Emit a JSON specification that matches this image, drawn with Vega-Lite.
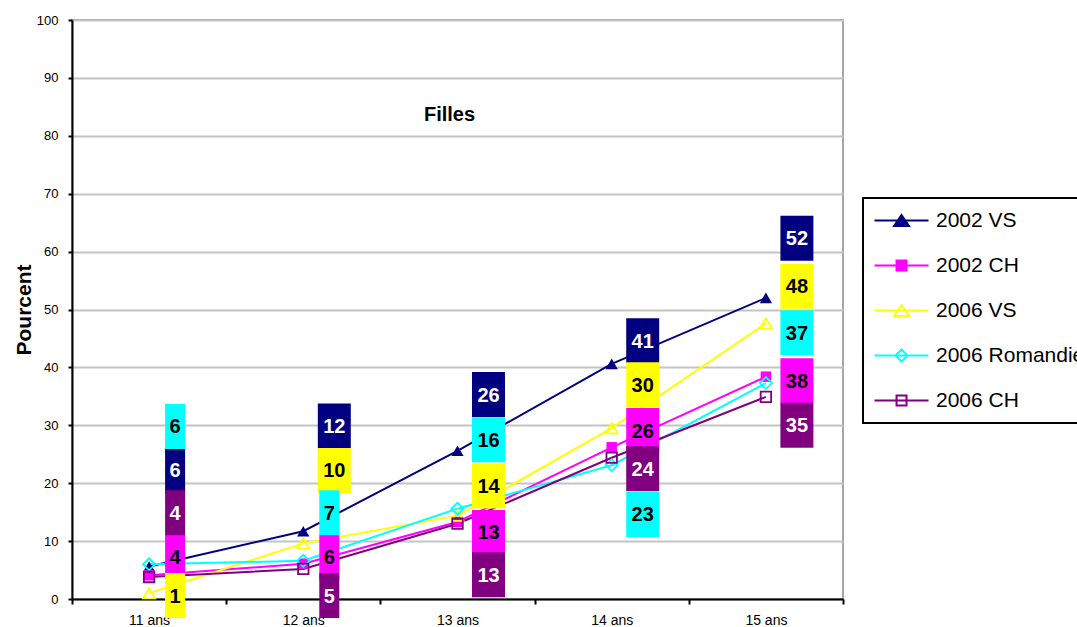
{
  "$schema": "https://vega.github.io/schema/vega-lite/v6.json",
  "width": 771,
  "height": 579,
  "autosize": {"type": "none"},
  "padding": {"left": 72, "top": 20, "right": 234, "bottom": 28},
  "background": "white",
  "config": {
    "font": "Liberation Sans",
    "view": {"stroke": "#a6a6a6", "strokeWidth": 2},
    "legend": {"strokeWidth": 2}
  },
  "title": {"text": "Filles", "fontSize": 20, "fontWeight": "bold", "color": "black", "anchor": "middle", "dy": 115, "dx": -8},
  "datasets": {
    "pts": [
      {"age": "11 ans", "serie": "2002 VS", "v": 5.6},
      {"age": "12 ans", "serie": "2002 VS", "v": 11.7},
      {"age": "13 ans", "serie": "2002 VS", "v": 25.6},
      {"age": "14 ans", "serie": "2002 VS", "v": 40.6},
      {"age": "15 ans", "serie": "2002 VS", "v": 52.0},
      {"age": "11 ans", "serie": "2002 CH", "v": 4.1},
      {"age": "12 ans", "serie": "2002 CH", "v": 6.1},
      {"age": "13 ans", "serie": "2002 CH", "v": 13.3},
      {"age": "14 ans", "serie": "2002 CH", "v": 26.2},
      {"age": "15 ans", "serie": "2002 CH", "v": 38.4},
      {"age": "11 ans", "serie": "2006 VS", "v": 1.0},
      {"age": "12 ans", "serie": "2006 VS", "v": 9.6},
      {"age": "13 ans", "serie": "2006 VS", "v": 14.4},
      {"age": "14 ans", "serie": "2006 VS", "v": 29.5},
      {"age": "15 ans", "serie": "2006 VS", "v": 47.6},
      {"age": "11 ans", "serie": "2006 Romandie", "v": 6.0},
      {"age": "12 ans", "serie": "2006 Romandie", "v": 6.6},
      {"age": "13 ans", "serie": "2006 Romandie", "v": 15.6},
      {"age": "14 ans", "serie": "2006 Romandie", "v": 23.1},
      {"age": "15 ans", "serie": "2006 Romandie", "v": 37.3},
      {"age": "11 ans", "serie": "2006 CH", "v": 3.8},
      {"age": "12 ans", "serie": "2006 CH", "v": 5.2},
      {"age": "13 ans", "serie": "2006 CH", "v": 13.0},
      {"age": "14 ans", "serie": "2006 CH", "v": 24.4},
      {"age": "15 ans", "serie": "2006 CH", "v": 34.9}
    ],
    "lab": [
      {"age": "11 ans", "serie": "2002 VS", "n": 6, "c": 22.2},
      {"age": "11 ans", "serie": "2002 CH", "n": 4, "c": 7.2},
      {"age": "11 ans", "serie": "2006 VS", "n": 1, "c": 0.6},
      {"age": "11 ans", "serie": "2006 Romandie", "n": 6, "c": 29.8},
      {"age": "11 ans", "serie": "2006 CH", "n": 4, "c": 14.9},
      {"age": "12 ans", "serie": "2002 VS", "n": 12, "c": 29.9},
      {"age": "12 ans", "serie": "2002 CH", "n": 6, "c": 7.2},
      {"age": "12 ans", "serie": "2006 VS", "n": 10, "c": 22.2},
      {"age": "12 ans", "serie": "2006 Romandie", "n": 7, "c": 14.9},
      {"age": "12 ans", "serie": "2006 CH", "n": 5, "c": 0.6},
      {"age": "13 ans", "serie": "2002 VS", "n": 26, "c": 35.3},
      {"age": "13 ans", "serie": "2002 CH", "n": 13, "c": 11.5},
      {"age": "13 ans", "serie": "2006 VS", "n": 14, "c": 19.5},
      {"age": "13 ans", "serie": "2006 Romandie", "n": 16, "c": 27.5},
      {"age": "13 ans", "serie": "2006 CH", "n": 13, "c": 4.2},
      {"age": "14 ans", "serie": "2002 VS", "n": 41, "c": 44.6},
      {"age": "14 ans", "serie": "2002 CH", "n": 26, "c": 29.1},
      {"age": "14 ans", "serie": "2006 VS", "n": 30, "c": 37.0},
      {"age": "14 ans", "serie": "2006 Romandie", "n": 23, "c": 14.6},
      {"age": "14 ans", "serie": "2006 CH", "n": 24, "c": 22.5},
      {"age": "15 ans", "serie": "2002 VS", "n": 52, "c": 62.3},
      {"age": "15 ans", "serie": "2002 CH", "n": 38, "c": 37.7},
      {"age": "15 ans", "serie": "2006 VS", "n": 48, "c": 54.0},
      {"age": "15 ans", "serie": "2006 Romandie", "n": 37, "c": 46.0},
      {"age": "15 ans", "serie": "2006 CH", "n": 35, "c": 30.0}
    ]
  },
  "layer": [
    {
      "data": {"name": "pts"},
      "mark": {"type": "line", "strokeWidth": 2},
      "encoding": {
        "x": {
          "field": "age", "type": "nominal", "bandPosition": 0.5,
          "scale": {"type": "band", "paddingInner": 0, "paddingOuter": 0},
          "axis": {"title": null, "labelAngle": 0, "labelFontSize": 14, "labelColor": "black", "tickBand": "extent", "tickSize": 5, "tickColor": "black", "tickWidth": 2, "domainColor": "black", "domainWidth": 2, "labelPadding": 9, "grid": false}
        },
        "y": {
          "field": "v", "type": "quantitative",
          "scale": {"domain": [0, 100], "nice": false},
          "axis": {"title": "Pourcent", "values": [0, 10, 20, 30, 40, 50, 60, 70, 80, 90, 100], "labelFontSize": 13, "labelColor": "black", "tickSize": 4, "tickColor": "black", "tickWidth": 2, "domainColor": "black", "domainWidth": 2, "gridColor": "#c4c4c4", "gridWidth": 2, "titleFontSize": 21, "titleFontWeight": "bold", "titleColor": "black", "titlePadding": 2, "labelPadding": 10}
        },
        "color": {
          "field": "serie", "type": "nominal",
          "scale": {"domain": ["2002 VS", "2002 CH", "2006 VS", "2006 Romandie", "2006 CH"], "range": ["#000080", "#FF00FF", "#FFFF00", "#00FFFF", "#800080"]},
          "legend": {
            "title": null, "orient": "none", "legendX": 791, "legendY": 178, "padding": 12,
            "strokeColor": "black", "symbolSize": 144, "symbolStrokeWidth": 2, "labelOffset": 40,
            "labelFontSize": 21, "labelFont": "Liberation Sans", "labelColor": "black", "rowPadding": 23, "labelLimit": 400
          }
        }
      }
    },
    {
      "data": {"name": "pts"},
      "mark": {"type": "point", "filled": false, "size": 0, "strokeWidth": 2, "opacity": 1},
      "encoding": {
        "x": {"field": "age", "type": "nominal", "bandPosition": 0.5},
        "y": {"field": "v", "type": "quantitative"},
        "color": {"field": "serie", "type": "nominal"},
        "fill": {"field": "serie", "type": "nominal", "legend": {"title": null}, "scale": {"domain": ["2002 VS", "2002 CH", "2006 VS", "2006 Romandie", "2006 CH"], "range": ["#000080", "#FF00FF", "transparent", "transparent", "transparent"]}},
        "shape": {"field": "serie", "type": "nominal", "legend": {"title": null}, "scale": {"domain": ["2002 VS", "2002 CH", "2006 VS", "2006 Romandie", "2006 CH"], "range": [
          "M-1.83,0H7.17M2.67,-0.92L3.92,0.92L1.42,0.92Z",
          "M-1.83,0H7.17M1.84,-0.83H3.5V0.83H1.84Z",
          "M-1.83,0H7.17M2.67,-0.92L3.92,0.92L1.42,0.92Z",
          "M-1.83,0H7.17M2.67,-1L3.67,0L2.67,1L1.67,0Z",
          "M-1.83,0H7.17M1.84,-0.83H3.5V0.83H1.84Z"
        ]}}
      }
    },
    {
      "data": {"name": "pts"},
      "transform": [{"filter": "datum.serie==='2002 VS'||datum.serie==='2002 CH'"}],
      "mark": {"type": "point", "filled": true, "opacity": 1},
      "encoding": {
        "x": {"field": "age", "type": "nominal", "bandPosition": 0.5},
        "y": {"field": "v", "type": "quantitative"},
        "color": {"condition": {"test": "datum.serie==='2002 VS'", "value": "#000080"}, "value": "#FF00FF"},
        "shape": {"condition": {"test": "datum.serie==='2002 VS'", "value": "triangle-up"}, "value": "square"},
        "size": {"condition": {"test": "datum.serie==='2002 VS'", "value": 150}, "value": 110}
      }
    },
    {
      "data": {"name": "pts"},
      "transform": [{"filter": "datum.serie!=='2002 VS'&&datum.serie!=='2002 CH'"}],
      "mark": {"type": "point", "filled": false, "opacity": 1, "strokeWidth": 1.8},
      "encoding": {
        "x": {"field": "age", "type": "nominal", "bandPosition": 0.5},
        "y": {"field": "v", "type": "quantitative"},
        "color": {"field": "serie", "type": "nominal"},
        "shape": {"condition": [{"test": "datum.serie==='2006 VS'", "value": "triangle-up"}, {"test": "datum.serie==='2006 Romandie'", "value": "diamond"}], "value": "square"},
        "size": {"condition": {"test": "datum.serie==='2006 CH'", "value": 110}, "value": 145}
      }
    },
    {
      "data": {"name": "lab"},
      "mark": {"type": "point", "filled": true, "opacity": 1, "strokeWidth": 0, "size": 2025, "xOffset": 31},
      "encoding": {
        "x": {"field": "age", "type": "nominal", "bandPosition": 0.5},
        "y": {"field": "c", "type": "quantitative"},
        "color": {"condition": [
          {"test": "datum.serie==='2002 VS'", "value": "#000080"},
          {"test": "datum.serie==='2002 CH'", "value": "#FF00FF"},
          {"test": "datum.serie==='2006 VS'", "value": "#FFFF00"},
          {"test": "datum.serie==='2006 Romandie'", "value": "#00FFFF"}
        ], "value": "#800080"},
        "shape": {"condition": {"test": "datum.n >= 10", "value": "M-0.733,-1H0.733V1H-0.733Z"}, "value": "M-0.667,-1H0.222V1H-0.667Z"}
      }
    },
    {
      "data": {"name": "lab"},
      "transform": [{"filter": "datum.n < 10"}],
      "mark": {"type": "text", "xOffset": 26, "fontSize": 20, "fontWeight": "bold", "font": "Liberation Sans", "baseline": "middle", "align": "center", "dy": 1},
      "encoding": {
        "x": {"field": "age", "type": "nominal", "bandPosition": 0.5},
        "y": {"field": "c", "type": "quantitative"},
        "text": {"field": "n", "type": "quantitative"},
        "color": {"condition": {"test": "datum.serie==='2002 VS'||datum.serie==='2006 CH'", "value": "white"}, "value": "black"}
      }
    },
    {
      "data": {"name": "lab"},
      "transform": [{"filter": "datum.n >= 10"}],
      "mark": {"type": "text", "xOffset": 31, "fontSize": 20, "fontWeight": "bold", "font": "Liberation Sans", "baseline": "middle", "align": "center", "dy": 1},
      "encoding": {
        "x": {"field": "age", "type": "nominal", "bandPosition": 0.5},
        "y": {"field": "c", "type": "quantitative"},
        "text": {"field": "n", "type": "quantitative"},
        "color": {"condition": {"test": "datum.serie==='2002 VS'||datum.serie==='2006 CH'", "value": "white"}, "value": "black"}
      }
    }
  ]
}
